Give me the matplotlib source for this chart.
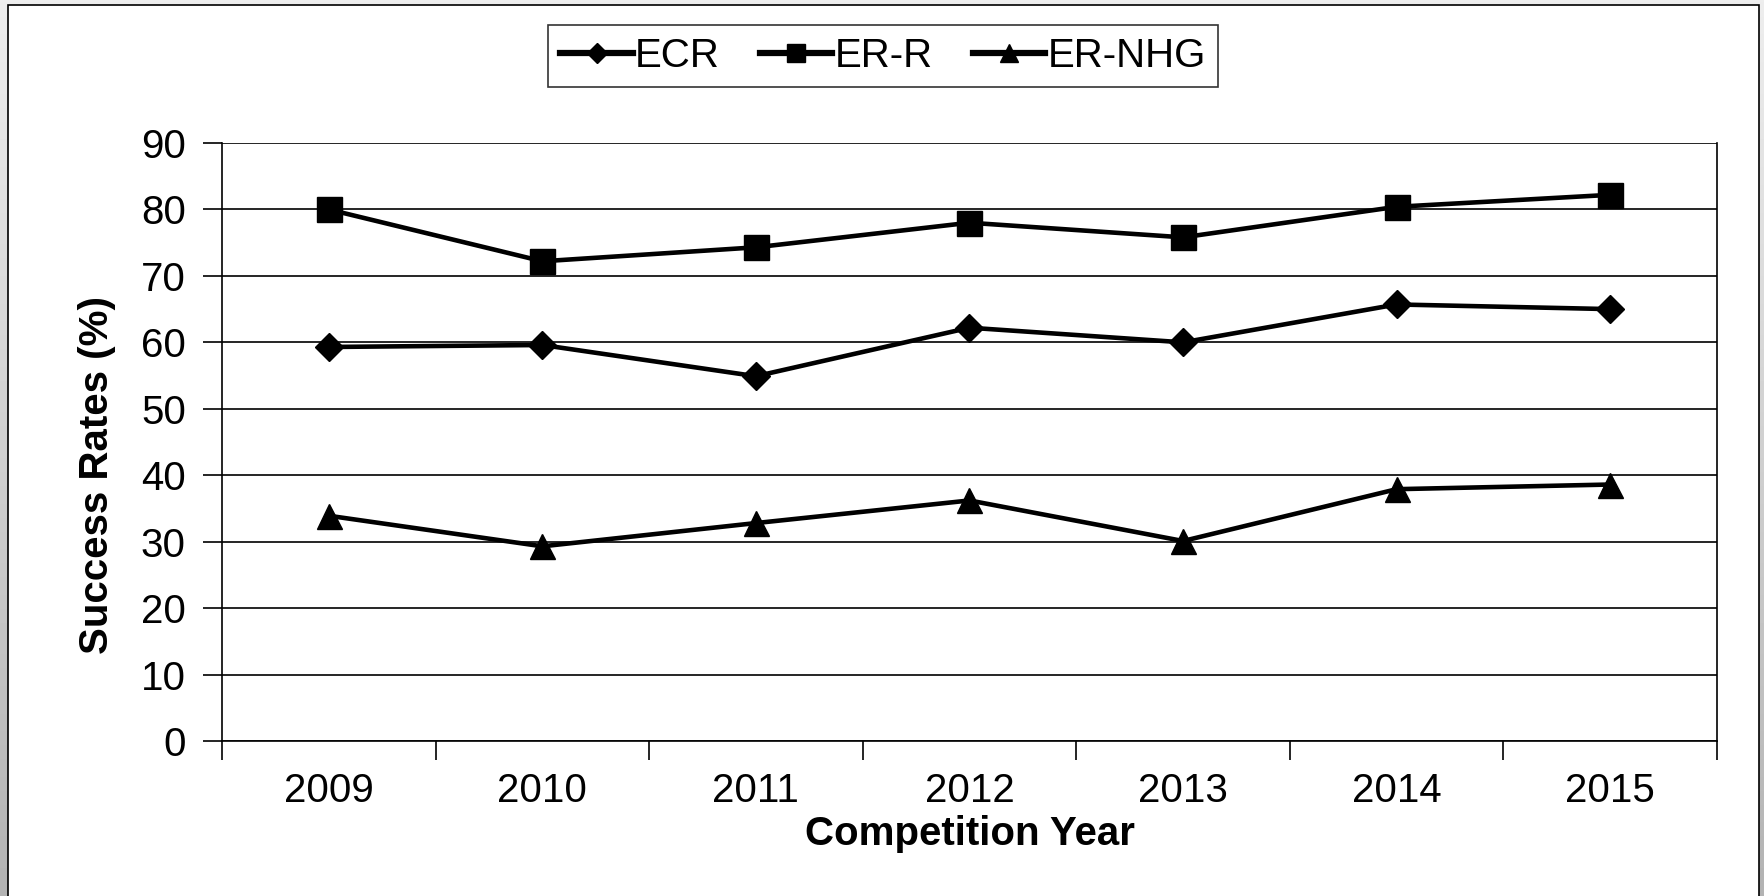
import numpy as np
import matplotlib
matplotlib.use("Agg")
import matplotlib.pyplot as plt
from matplotlib.patches import Rectangle

years = ["2009", "2010", "2011", "2012", "2013", "2014", "2015"]
ecr = [59.3, 59.6, 54.9, 62.2, 60.0, 65.7, 65.0]
er_r = [80.0, 72.2, 74.3, 78.0, 75.8, 80.4, 82.2]
er_nhg = [33.9, 29.3, 32.8, 36.2, 30.1, 37.9, 38.6]

plt.rcParams['font.family'] = ['Liberation Sans', 'DejaVu Sans']

W, H = 1765, 896
fig = plt.figure(figsize=(W / 100, H / 100), dpi=100)

# grey gradient background behind the white panel
bg = fig.add_axes([0, 0, 1, 1], zorder=-10)
grad = np.linspace(0.93, 0.70, 256).reshape(-1, 1)
bg.imshow(grad, cmap='gray', vmin=0, vmax=1, aspect='auto', extent=[0, 1, 0, 1])
bg.set_axis_off()
fig.patches.append(Rectangle((8 / W, -0.05), (1759 - 8) / W, 1.05 - 5 / H,
                             transform=fig.transFigure, facecolor='white',
                             edgecolor='black', linewidth=1.2, zorder=-5))

ax = fig.add_axes([222 / W, 1 - 741 / H, (1717 - 222) / W, (741 - 143) / H])
ax.set_facecolor('none')
x = np.arange(len(years))

ax.plot(x, ecr, color='black', lw=3.3, marker='D', ms=14, label='ECR')
ax.plot(x, er_r, color='black', lw=3.3, marker='s', ms=18, label='ER-R')
ax.plot(x, er_nhg, color='black', lw=3.3, marker='^', ms=18, label='ER-NHG')

ax.set_xlim(-0.5, len(years) - 0.5)
ax.set_ylim(0, 90)
ax.set_yticks(range(0, 91, 10))
ax.set_xticks(x)
ax.set_xticklabels(years)
ax.set_xticks(np.arange(-0.5, len(years), 1), minor=True)
ax.yaxis.grid(True, color='black', lw=1.2)
ax.set_axisbelow(True)
ax.tick_params(axis='y', length=14, width=1.2, labelsize=29, pad=12, direction='out')
ax.tick_params(axis='x', which='major', length=0, labelsize=29, pad=22)
ax.tick_params(axis='x', which='minor', length=14, width=1.2, direction='out')
for s in ['left', 'right', 'bottom', 'top']:
    ax.spines[s].set_linewidth(1.2)
ax.spines['top'].set_visible(False)

ax.set_xlabel('Competition Year', fontsize=29, fontweight='bold', labelpad=4)
ax.set_ylabel('Success Rates (%)', fontsize=29, fontweight='bold')
ax.yaxis.set_label_coords(-0.071, 0.444)

leg = fig.legend(loc='center', bbox_to_anchor=(883 / W, 1 - 56 / H), ncol=3,
                 fontsize=29, frameon=True, fancybox=False, edgecolor='black',
                 handlelength=1.8, handletextpad=0.05, columnspacing=1.0,
                 borderpad=0.3, borderaxespad=0, markerscale=0.7)
leg.get_frame().set_linewidth(1.2)
for h in leg.legend_handles:
    h.set_linewidth(4.5)

fig.savefig('out.png', dpi=100)
